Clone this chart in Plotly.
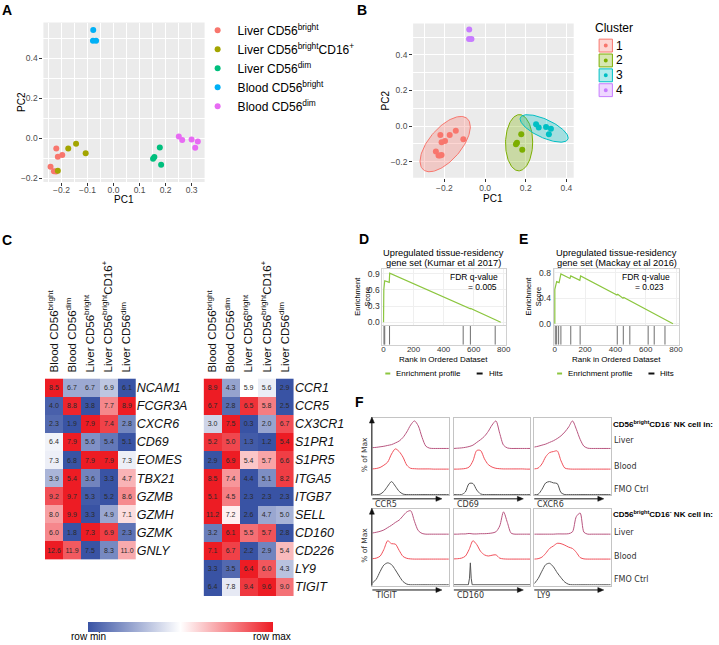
import numpy as np
import plotly.graph_objects as go

W, H = 719, 645
SANS = "Liberation Sans, Arial, sans-serif"
VERD = "DejaVu Sans, Verdana, sans-serif"

# ---------------- Panel A / B : PCA ----------------
group_names = ["Liver CD56<sup>bright</sup>", "Liver CD56<sup>bright</sup>CD16<sup>+</sup>",
               "Liver CD56<sup>dim</sup>", "Blood CD56<sup>bright</sup>", "Blood CD56<sup>dim</sup>"]
group_colors = ["#F8766D", "#A3A500", "#00BF7D", "#00B0F6", "#E76BF3"]
pc1_liver_bright = [-0.220, -0.214, -0.197, -0.242, -0.229, -0.221]
pc2_liver_bright = [-0.050, -0.091, -0.083, -0.142, -0.164, -0.165]
pc1_liver_bright16 = [-0.174, -0.144, -0.107, -0.214]
pc2_liver_bright16 = [-0.050, -0.026, -0.074, -0.162]
pc1_liver_dim = [0.178, 0.157, 0.152, 0.183]
pc2_liver_dim = [-0.045, -0.093, -0.102, -0.132]
pc1_blood_bright = [-0.078, -0.079, -0.067]
pc2_blood_bright = [0.542, 0.489, 0.489]
pc1_blood_dim = [0.251, 0.264, 0.300, 0.324, 0.314]
pc2_blood_dim = [0.010, -0.008, -0.005, -0.015, -0.046]
group_cluster = [1, 1, 2, 4, 3]
cluster_names = ["1", "2", "3", "4"]
cluster_colors = ["#F8766D", "#7CAE00", "#00BFC4", "#C77CFF"]
cluster_fill = ["rgba(248,118,109,0.3)", "rgba(124,174,0,0.3)", "rgba(0,191,196,0.3)", "rgba(199,124,255,0.3)"]

# ---------------- Panel C : heatmaps ----------------
heat_cols = ["Blood CD56<sup>bright</sup>", "Blood CD56<sup>dim</sup>", "Liver CD56<sup>bright</sup>",
             "Liver CD56<sup>bright</sup>CD16<sup>+</sup>", "Liver CD56<sup>dim</sup>"]
genes_left = ["NCAM1", "FCGR3A", "CXCR6", "CD69", "EOMES", "TBX21", "GZMB", "GZMH", "GZMK", "GNLY"]
expr_left = [
    [8.5, 6.7, 6.7, 6.9, 6.1],
    [4.0, 8.8, 3.8, 7.7, 8.9],
    [2.3, 1.9, 7.9, 7.4, 2.8],
    [6.4, 7.9, 5.6, 5.4, 5.1],
    [7.3, 6.8, 7.9, 7.9, 7.3],
    [3.9, 5.4, 3.6, 3.3, 4.7],
    [9.2, 9.7, 5.3, 5.2, 8.6],
    [8.0, 9.9, 3.3, 4.9, 7.1],
    [6.0, 1.8, 7.3, 6.9, 2.3],
    [12.6, 11.9, 7.5, 8.3, 11.0],
]
genes_right = ["CCR1", "CCR5", "CX3CR1", "S1PR1", "S1PR5", "ITGA5", "ITGB7", "SELL", "CD160", "CD226", "LY9", "TIGIT"]
expr_right = [
    [8.9, 4.3, 5.9, 5.6, 2.9],
    [6.7, 2.8, 6.5, 5.8, 2.5],
    [3.0, 7.5, 0.3, 2.0, 6.7],
    [5.2, 5.0, 1.3, 1.2, 5.4],
    [2.9, 6.9, 5.4, 5.7, 6.6],
    [8.5, 7.4, 4.4, 5.1, 8.2],
    [5.1, 4.5, 2.3, 2.3, 2.3],
    [11.2, 7.2, 2.6, 4.7, 5.0],
    [3.2, 6.1, 5.5, 5.7, 2.8],
    [7.1, 6.7, 2.2, 2.9, 5.4],
    [3.3, 3.5, 6.4, 6.0, 4.3],
    [6.4, 7.8, 9.4, 9.6, 9.0],
]
heat_scale = [[0.0, "#3953a4"], [0.5, "#ffffff"], [1.0, "#ed1c24"]]

# ---------------- Panels D / E : GSEA ----------------
gsea_ticks = [0, 200, 400, 600, 800]
d_rank = [0, 2, 8, 38, 41, 530, 532, 578, 580, 743, 745, 780]
d_es = [0.0, 0.61, 0.77, 0.74, 0.91, 0.30, 0.31, 0.25, 0.255, 0.045, 0.048, 0.0]
d_hits = [3, 8, 40, 530, 578, 743]
e_rank = [0, 0, 12, 28, 40, 100, 105, 165, 170, 410, 415, 450, 455, 780]
e_es = [0.0, 0.54, 0.66, 0.645, 0.78, 0.71, 0.75, 0.68, 0.75, 0.45, 0.46, 0.40, 0.41, 0.0]
e_hits = [3, 12, 25, 40, 105, 167, 412, 452, 495, 616, 656, 727]

# ---------------- Panel F : flow histograms (% of max) ----------------
flow_x = list(range(0, 101, 5))
liver_ccr5 = [3, 4, 6, 8, 11, 14, 20, 27, 40, 60, 85, 100, 82, 40, 8, 1, 0, 0, 0, 0, 0]
blood_ccr5 = [1, 3, 8, 19, 34, 73, 98, 85, 58, 19, 4, 2, 1, 1, 1, 1, 0, 0, 0, 0, 0]
fmo_ccr5 = [0, 0, 3, 25, 65, 100, 65, 25, 4, 0, 0, 0, 0, 0, 0, 0, 0, 0, 0, 0, 0]
liver_cd69 = [0, 1, 2, 4, 7, 12, 22, 32, 44, 62, 85, 100, 55, 12, 2, 0, 0, 0, 0, 0, 0]
blood_cd69 = [0, 0, 1, 3, 10, 40, 90, 90, 50, 22, 10, 4, 2, 1, 1, 1, 1, 1, 1, 0, 0]
fmo_cd69 = [0, 0, 0, 20, 85, 85, 35, 5, 0, 0, 0, 0, 0, 0, 0, 0, 0, 0, 0, 0, 0]
liver_cxcr6 = [5, 8, 12, 16, 22, 28, 36, 46, 60, 78, 100, 70, 33, 8, 1, 0, 0, 0, 0, 0, 0]
blood_cxcr6 = [1, 5, 25, 60, 80, 85, 88, 40, 5, 1, 0, 0, 0, 0, 0, 0, 0, 0, 0, 0, 0]
fmo_cxcr6 = [0, 2, 40, 90, 100, 90, 85, 15, 0, 0, 0, 0, 0, 0, 0, 0, 0, 0, 0, 0, 0]
liver_tigit = [5, 8, 12, 18, 28, 38, 50, 60, 78, 95, 100, 55, 15, 3, 0, 0, 0, 0, 0, 0, 0]
blood_tigit = [2, 5, 15, 50, 95, 80, 78, 45, 14, 4, 1, 0, 0, 0, 0, 0, 0, 0, 0, 0, 0]
fmo_tigit = [8, 25, 60, 90, 100, 92, 68, 40, 15, 3, 0, 0, 0, 0, 0, 0, 0, 0, 0, 0, 0]
liver_cd160 = [0, 0, 1, 1, 3, 1, 1, 2, 2, 3, 5, 10, 35, 95, 50, 4, 0, 0, 0, 0, 0]
blood_cd160 = [1, 2, 5, 15, 50, 95, 75, 40, 22, 16, 20, 22, 5, 1, 0, 0, 0, 0, 0, 0, 0]
fmo_cd160_x = [0, 19, 20.5, 21.6, 22.7, 24, 100]
fmo_cd160 = [0, 0, 30, 100, 30, 0, 0]
liver_ly9 = [0, 0, 0, 0, 0, 0, 1, 1, 1, 2, 10, 75, 90, 8, 0, 0, 0, 0, 0, 0, 0]
blood_ly9 = [0, 2, 10, 30, 55, 68, 82, 80, 72, 62, 55, 35, 8, 1, 0, 0, 0, 0, 0, 0, 0]
fmo_ly9 = [5, 28, 62, 92, 98, 82, 55, 32, 12, 2, 0, 0, 0, 0, 0, 0, 0, 0, 0, 0, 0]
flow_markers = ["CCR5", "CD69", "CXCR6", "TIGIT", "CD160", "LY9"]
flow_samples = ["Liver", "Blood", "FMO Ctrl"]
flow_colors = ["#b8557f", "#f0505a", "#555555"]


def fx(p):
    return p / W


def fy(p):
    return 1 - p / H


fig = go.Figure()
layout = dict(width=W, height=H, margin=dict(l=0, r=0, t=0, b=0),
              paper_bgcolor="white", plot_bgcolor="white",
              font=dict(family=SANS, color="#000"))
annotations = []
shapes = []


def ann(text, x, y, size=9, color="#000", xa="center", ya="middle", angle=0, family=SANS):
    annotations.append(dict(text=text, x=fx(x), y=fy(y), xref="paper", yref="paper", showarrow=False,
                            xanchor=xa, yanchor=ya, textangle=angle,
                            font=dict(size=size, color=color, family=family)))


def arrow(x0, y0, x1, y1, color="#111"):
    if y0 == y1:  # horizontal, pointing right
        tip = [(x1, y1), (x1 - 6, y1 - 2.5), (x1 - 6, y1 + 2.5)]
        end = (x1 - 5, y1)
    else:  # vertical, pointing up
        tip = [(x1, y1), (x1 - 2.5, y1 + 6), (x1 + 2.5, y1 + 6)]
        end = (x1, y1 + 5)
    shapes.append(dict(type="line", xref="paper", yref="paper", x0=fx(x0), y0=fy(y0), x1=fx(end[0]), y1=fy(end[1]),
                       line=dict(color=color, width=1)))
    path = "M%f,%f L%f,%f L%f,%f Z" % (fx(tip[0][0]), fy(tip[0][1]), fx(tip[1][0]), fy(tip[1][1]),
                                       fx(tip[2][0]), fy(tip[2][1]))
    shapes.append(dict(type="path", xref="paper", yref="paper", path=path, fillcolor=color,
                       line=dict(color=color, width=0.5)))


# ======== Panel A ========
pc1_groups = [pc1_liver_bright, pc1_liver_bright16, pc1_liver_dim, pc1_blood_bright, pc1_blood_dim]
pc2_groups = [pc2_liver_bright, pc2_liver_bright16, pc2_liver_dim, pc2_blood_bright, pc2_blood_dim]
for i in range(5):
    fig.add_trace(go.Scatter(x=pc1_groups[i], y=pc2_groups[i], mode="markers", name=group_names[i],
                             marker=dict(color=group_colors[i], size=6), xaxis="x", yaxis="y",
                             legend="legend", legendgroup="g%d" % i, hoverinfo="skip"))

gg_axis = dict(showgrid=True, gridcolor="white", gridwidth=1, zeroline=False, showline=False,
               ticks="outside", ticklen=3, tickcolor="#333", tickfont=dict(size=8.5, color="#4d4d4d"))
layout["xaxis"] = dict(domain=[fx(42.7), fx(205)], range=[-0.2695, 0.35], anchor="y", ticklabelstandoff=-3,
                       tickvals=[-0.2, -0.1, 0, 0.1, 0.2, 0.3], ticktext=["\u22120.2", "\u22120.1", "0.0", "0.1", "0.2", "0.3"],
                       minor=dict(tickvals=[-0.25, -0.15, -0.05, 0.05, 0.15, 0.25], showgrid=True,
                                  gridcolor="white", gridwidth=0.5, ticks=""), **gg_axis)
layout["yaxis"] = dict(domain=[fy(181.7), fy(20.7)], range=[-0.218, 0.58], anchor="x",
                       tickvals=[-0.2, 0, 0.2, 0.4], ticktext=["\u22120.2", "0.0", "0.2", "0.4"],
                       minor=dict(tickvals=[-0.1, 0.1, 0.3, 0.5], showgrid=True, gridcolor="white",
                                  gridwidth=0.5, ticks=""), **gg_axis)
shapes.append(dict(type="rect", xref="x domain", yref="y domain", x0=0, x1=1, y0=0, y1=1,
                   fillcolor="#EBEBEB", line=dict(width=0), layer="below"))
ann("PC1", 124, 199, size=10)
ann("PC2", 20, 101, size=10, angle=-90)
layout["legend"] = dict(x=fx(198), y=fy(14), xanchor="left", yanchor="top", font=dict(size=12, family=SANS),
                        bgcolor="rgba(0,0,0,0)", traceorder="grouped", tracegroupgap=0, itemwidth=30)

# ======== Panel B ========
for k in range(4):
    xs, ys = [], []
    for g in range(5):
        if group_cluster[g] == k + 1:
            xs += pc1_groups[g]
            ys += pc2_groups[g]
    if len(xs) >= 4:
        pts = np.column_stack([xs, ys])
        n = len(pts)
        dfd = n - 1
        fq = (dfd / 2.0) * ((1 - 0.95) ** (-2.0 / dfd) - 1)
        r = np.sqrt(2 * fq)
        chol = np.linalg.cholesky(np.cov(pts.T)).T
        th = np.linspace(0, 2 * np.pi, 120)
        circ = np.column_stack([np.cos(th), np.sin(th)])
        ell = pts.mean(axis=0) + r * circ @ chol
        fig.add_trace(go.Scatter(x=ell[:, 0], y=ell[:, 1], mode="lines", fill="toself",
                                 fillcolor=cluster_fill[k], line=dict(color=cluster_colors[k], width=1),
                                 xaxis="x2", yaxis="y2", showlegend=False, hoverinfo="skip"))
    fig.add_trace(go.Scatter(x=xs, y=ys, mode="markers", marker=dict(color=cluster_colors[k], size=6),
                             xaxis="x2", yaxis="y2", showlegend=False, hoverinfo="skip"))
    yk = 44 + 15 * k
    shapes.append(dict(type="rect", xref="paper", yref="paper", x0=fx(602.3), x1=fx(615.7),
                       y0=fy(yk + 6.5), y1=fy(yk - 6.5), fillcolor=cluster_fill[k],
                       line=dict(color=cluster_colors[k], width=1)))
    shapes.append(dict(type="circle", xref="paper", yref="paper", x0=fx(607), x1=fx(611),
                       y0=fy(yk + 2), y1=fy(yk - 2), fillcolor=cluster_colors[k], line=dict(width=0)))
    ann(cluster_names[k], 617.5, yk, size=12, xa="left")
ann("Cluster", 596.5, 26, size=12, xa="left")

layout["xaxis2"] = dict(domain=[fx(415), fx(576.7)], range=[-0.354, 0.436], anchor="y2", ticklabelstandoff=-1,
                        tickvals=[-0.2, 0, 0.2, 0.4], ticktext=["\u22120.2", "0.0", "0.2", "0.4"],
                        minor=dict(tickvals=[-0.3, -0.1, 0.1, 0.3], showgrid=True, gridcolor="white",
                                   gridwidth=0.5, ticks=""), **gg_axis)
layout["yaxis2"] = dict(domain=[fy(177.3), fy(21.7)], range=[-0.289, 0.576], anchor="x2",
                        tickvals=[-0.2, 0, 0.2, 0.4], ticktext=["\u22120.2", "0.0", "0.2", "0.4"],
                        minor=dict(tickvals=[-0.1, 0.1, 0.3, 0.5], showgrid=True, gridcolor="white",
                                   gridwidth=0.5, ticks=""), **gg_axis)
shapes.append(dict(type="rect", xref="x2 domain", yref="y2 domain", x0=0, x1=1, y0=0, y1=1,
                   fillcolor="#EBEBEB", line=dict(width=0), layer="below"))
ann("PC1", 495, 198, size=10)
ann("PC2", 387, 99, size=10, angle=-90)


# ======== Panel C ========
def row_norm(rows):
    out = []
    for row in rows:
        lo, hi = min(row), max(row)
        out.append([(v - lo) / (hi - lo) for v in row])
    return out


for idx, (genes, expr, xd, yd) in enumerate([(genes_left, expr_left, (44.3, 135.7), (380, 563)),
                                             (genes_right, expr_right, (204, 295), (380, 599.6))]):
    xa, ya = "x%d" % (3 + idx), "y%d" % (3 + idx)
    tr = dict(z=row_norm(expr), x=list(range(5)), y=list(range(len(genes))),
              text=[["%.1f" % v for v in row] for row in expr], texttemplate="%{text}",
              textfont=dict(size=7, color="#2a2a2a", family=SANS), colorscale=heat_scale, zmin=0, zmax=1,
              xaxis=xa, yaxis=ya, hoverinfo="skip", showscale=(idx == 1))
    if idx == 1:
        tr["colorbar"] = dict(orientation="h", x=fx(180.5), xanchor="center", y=fy(626), yanchor="top",
                              len=185, lenmode="pixels", thickness=10, thicknessmode="pixels",
                              outlinewidth=0, showticklabels=False, ticks="", xpad=0, ypad=0)
    fig.add_trace(go.Heatmap(**tr))
    layout["xaxis%d" % (3 + idx)] = dict(domain=[fx(xd[0]), fx(xd[1])], range=[-0.5, 4.5], anchor=ya,
                                         side="top", tickvals=list(range(5)), ticktext=heat_cols, tickangle=-90,
                                         ticks="", ticklen=0, ticklabelstandoff=5, showgrid=False, zeroline=False,
                                         showline=False, tickfont=dict(size=11.5, color="#111"))
    layout["yaxis%d" % (3 + idx)] = dict(domain=[fy(yd[1]), fy(yd[0])], range=[len(genes) - 0.5, -0.5],
                                         anchor=xa, side="right", tickvals=list(range(len(genes))),
                                         ticktext=["<i>%s</i>" % g for g in genes], ticks="",
                                         showgrid=False, zeroline=False, showline=False,
                                         tickfont=dict(size=12.5, color="#111"))
ann("row min", 88, 640.5, size=10)
ann("row max", 273, 640.5, size=10)

# ======== Panels D / E ========
gsea_sets = [(d_rank, d_es, d_hits, (384, 509), [0, 0.3, 0.6, 0.9], [-0.05, 0.98]),
             (e_rank, e_es, e_hits, (556.5, 682.5), [0, 0.4, 0.8], [-0.02, 0.85])]
for j, (rk, es, hits, xd, yt, yr) in enumerate(gsea_sets):
    a_es, a_h = 5 + 2 * j, 6 + 2 * j
    fig.add_trace(go.Scatter(x=rk, y=es, mode="lines", line=dict(color="#8cc63f", width=1.2),
                             xaxis="x%d" % a_es, yaxis="y%d" % a_es, showlegend=False, hoverinfo="skip"))
    hx, hy = [], []
    for h in hits:
        hx += [h, h, None]
        hy += [0, 1, None]
    fig.add_trace(go.Scatter(x=hx, y=hy, mode="lines", line=dict(color="#6e6e6e", width=1),
                             xaxis="x%d" % a_h, yaxis="y%d" % a_h, showlegend=False, hoverinfo="skip"))
    box = dict(showline=True, mirror=True, linecolor="#d0d0d0", linewidth=1, zeroline=False)
    layout["xaxis%d" % a_es] = dict(domain=[fx(xd[0]), fx(xd[1])], range=[-8, 818], anchor="y%d" % a_es,
                                    tickvals=gsea_ticks, showticklabels=False, ticks="", showgrid=True,
                                    gridcolor="#efefef", **box)
    layout["yaxis%d" % a_es] = dict(domain=[fy(326), fy(270)], range=yr, anchor="x%d" % a_es,
                                    tickvals=yt, ticktext=["%.1f" % v for v in yt], ticks="", ticklen=0,
                                    tickfont=dict(size=8.5, color="#333"), showgrid=True, gridcolor="#efefef", **box)
    layout["xaxis%d" % a_h] = dict(domain=[fx(xd[0]), fx(xd[1])], range=[-8, 818], anchor="y%d" % a_h,
                                   tickvals=gsea_ticks, ticks="", ticklen=0, ticklabelstandoff=-3,
                                   tickfont=dict(size=8, color="#333"), showgrid=False, **box)
    layout["yaxis%d" % a_h] = dict(domain=[fy(346), fy(327)], range=[0, 1], anchor="x%d" % a_h,
                                   showticklabels=False, ticks="", showgrid=False, **box)

ann("Upregulated tissue-residency", 446, 253.5, size=9.3)
ann("gene set (Kumar et al 2017)", 446, 263, size=9.3)
ann("Upregulated tissue-residency", 620, 253.5, size=9.3)
ann("gene set (Mackay et al 2016)", 620, 263, size=9.3)
ann("FDR q-value", 502, 278, size=8.5, xa="right")
ann("= 0.005", 485, 288, size=8.5)
ann("FDR q-value", 676, 278, size=8.5, xa="right")
ann("= 0.023", 653, 288, size=8.5)
ann("Enrichment<br>Score", 364, 297, size=7.5, angle=-90)
ann("Enrichment<br>Score", 536, 297, size=7.5, angle=-90)
ann("Rank in Ordered Dataset", 446, 361, size=8)
ann("Rank in Ordered Dataset", 620, 361, size=8)
for x0, x_text_g, x1, x_text_h in [(387, 396, 479, 489), (560, 569, 652, 662)]:
    shapes.append(dict(type="line", xref="paper", yref="paper", x0=fx(x0), x1=fx(x0 + 5), y0=fy(375), y1=fy(375),
                       line=dict(color="#8cc63f", width=2)))
    shapes.append(dict(type="line", xref="paper", yref="paper", x0=fx(x1), x1=fx(x1 + 6), y0=fy(375), y1=fy(375),
                       line=dict(color="#111", width=2)))
    ann("Enrichment profile", x_text_g, 375, size=8, xa="left")
    ann("Hits", x_text_h, 375, size=8, xa="left")

# ======== Panel F ========
flow_data = [
    (liver_ccr5, blood_ccr5, fmo_ccr5, flow_x),
    (liver_cd69, blood_cd69, fmo_cd69, flow_x),
    (liver_cxcr6, blood_cxcr6, fmo_cxcr6, flow_x),
    (liver_tigit, blood_tigit, fmo_tigit, flow_x),
    (liver_cd160, blood_cd160, fmo_cd160, fmo_cd160_x),
    (liver_ly9, blood_ly9, fmo_ly9, flow_x),
]
box_x = [(374, 451), (456, 533), (537, 614)]
box_y = [(420, 498), (512, 589)]
lanes = [[(0.603, 0.36), (0.333, 0.27), (0.0, 0.17)],
         [(0.67, 0.31), (0.34, 0.255), (0.0, 0.29)]]
for m in range(6):
    row, col = m // 3, m % 3
    ax_i = 9 + m
    xa, ya = "x%d" % ax_i, "y%d" % ax_i
    liver, blood, fmo, fmo_x = flow_data[m]
    for s, (vals, xs) in enumerate([(liver, flow_x), (blood, flow_x), (fmo, fmo_x)]):
        base, scale = lanes[row][s]
        shape = "linear" if (m == 4 and s == 2) else "spline"
        fig.add_trace(go.Scatter(x=xs, y=[base + scale * v / 100.0 for v in vals], mode="lines",
                                 line=dict(color=flow_colors[s], width=1, shape=shape, smoothing=0.8),
                                 xaxis=xa, yaxis=ya, showlegend=False, hoverinfo="skip"))
    fbox = dict(showline=True, mirror=True, linecolor="#c4c4c4", linewidth=1, zeroline=False,
                showgrid=False, showticklabels=False, ticks="")
    layout["xaxis%d" % ax_i] = dict(domain=[fx(box_x[col][0]), fx(box_x[col][1])], range=[0, 100], anchor=ya, **fbox)
    layout["yaxis%d" % ax_i] = dict(domain=[fy(box_y[row][1]), fy(box_y[row][0])], range=[-0.01, 1.0], anchor=xa, **fbox)
    ay = box_y[row][1] + (3.5 if row == 0 else 4.5)
    arrow(box_x[col][0], ay, box_x[col][0] + 70, ay)
    ann(flow_markers[m], box_x[col][0] + 1, ay + 5.5, size=8, color="#333", xa="left", family=VERD)

for row in range(2):
    arrow(373.5, box_y[row][1], 373.5, box_y[row][0] - 1)
    ann("% of Max", 366, (box_y[row][0] + box_y[row][1]) / 2 - 2, size=7.5, color="#333", angle=-90, family=VERD)

for yh, yl, yb, yf in [(426, 443, 469, 492), (517, 535, 560, 583)]:
    ann("<b>CD56<sup>bright</sup>CD16<sup>-</sup> NK cell in:</b>", 614, yh, size=8, xa="left", family=SANS)
    for t, yy in zip(flow_samples, [yl, yb, yf]):
        ann(t, 615, yy, size=8, color="#333", xa="left", family=VERD)

# ======== Panel labels ========
for lab, x, y in [("A", 6, 8), ("B", 364, 8), ("C", 6, 240), ("D", 366, 239), ("E", 526, 239), ("F", 361, 404)]:
    ann("<b>%s</b>" % lab, x, y, size=14)

layout["annotations"] = annotations
layout["shapes"] = shapes
fig.update_layout(**layout)
fig.write_html("out.html", config={"displayModeBar": False},
               post_script="document.body.style.margin='0';document.body.style.overflow='hidden';")
